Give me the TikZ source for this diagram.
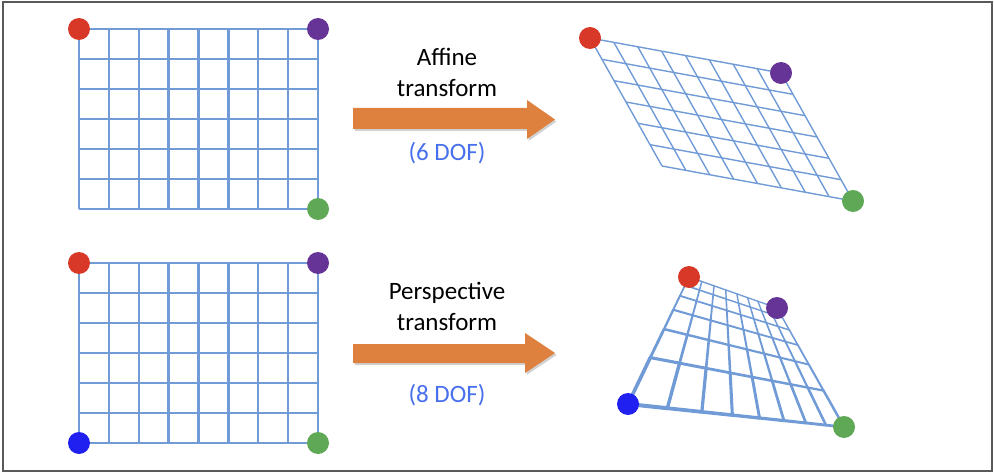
\documentclass[tikz,border=0pt]{standalone}
\usepackage{fontspec}
\setmainfont{Carlito}
\usetikzlibrary{calc}
\definecolor{gridblue}{RGB}{112,155,214}
\definecolor{dred}{RGB}{216,56,40}
\definecolor{dpurple}{RGB}{102,52,150}
\definecolor{dgreen}{RGB}{94,168,86}
\definecolor{dblue}{RGB}{32,32,240}
\definecolor{arroworange}{RGB}{222,128,62}
\definecolor{dofblue}{RGB}{72,112,236}
\tikzset{
  flatgrid/.style={draw=gridblue, line width=2.3pt},
  affgrid/.style={draw=gridblue, line width=1.4pt},
  pgrid/.style={draw=gridblue, line cap=round},
  dot/.style={circle, inner sep=0pt, minimum size=22pt},
  fatarrow/.style={fill=arroworange, draw=none},
  arrowshadow/.style={fill=black, opacity=0.18, draw=none},
  label/.style={font=\fontsize{25}{31}\selectfont, align=center, text=black},
  doflabel/.style={font=\fontsize{25}{31}\selectfont, text=dofblue},
  declare function={
    Pw(\u,\v)=1+0.19335*\u-0.65257*\v;
    Hx(\u,\v)=(238.23*\u-470.81*\v+689)/Pw(\u,\v);
    Hy(\u,\v)=(90.55*\u-136.64*\v+277)/Pw(\u,\v);
  }
}
\begin{document}
\begin{tikzpicture}[x=1pt,y=-1pt]
\useasboundingbox (0,0) rectangle (994,476);
\draw[draw=black!65, line width=1.2pt] (3,2) rectangle (992,471);

% ---------- flat grids ----------
\foreach \yo in {0,234}{
  \foreach \i in {0,...,8}{
    \draw[flatgrid] ({79+\i*239/8},{29+\yo}) -- ({79+\i*239/8},{209+\yo});
  }
  \foreach \j in {0,...,6}{
    \draw[flatgrid] (79,{29+\yo+\j*30}) -- (318,{29+\yo+\j*30});
  }
}

% ---------- affine grid ----------
\coordinate (AR) at (590,38);
\coordinate (AP) at (781,73);
\coordinate (AG) at (853,201);
\coordinate (AL) at (662,166);
\foreach \i in {0,...,8}{
  \draw[affgrid] ($(AR)!\i/8!(AP)$) -- ($(AL)!\i/8!(AG)$);
}
\foreach \j in {0,...,6}{
  \draw[affgrid] ($(AR)!\j/6!(AL)$) -- ($(AP)!\j/6!(AG)$);
}

% ---------- perspective grid ----------
\foreach \j in {0,...,6}{
  \foreach \i in {0,...,7}{
    \pgfmathsetmacro\ua{\i/8}
    \pgfmathsetmacro\ub{(\i+1)/8}
    \pgfmathsetmacro\vv{\j/6}
    \pgfmathsetmacro\lw{1.45/Pw((\ua+\ub)/2,\vv)}
    \draw[pgrid, line width=\lw pt] ({Hx(\ua,\vv)},{Hy(\ua,\vv)}) -- ({Hx(\ub,\vv)},{Hy(\ub,\vv)});
  }
}
\foreach \i in {0,...,8}{
  \foreach \j in {0,...,5}{
    \pgfmathsetmacro\uu{\i/8}
    \pgfmathsetmacro\va{\j/6}
    \pgfmathsetmacro\vb{(\j+1)/6}
    \pgfmathsetmacro\lw{1.45/Pw(\uu,(\va+\vb)/2)}
    \draw[pgrid, line width=\lw pt] ({Hx(\uu,\va)},{Hy(\uu,\va)}) -- ({Hx(\uu,\vb)},{Hy(\uu,\vb)});
  }
}

% ---------- dots ----------
\node[dot, fill=dred]    (r1) at (79,29) {};
\node[dot, fill=dpurple] (p1) at (318,29) {};
\node[dot, fill=dgreen]  (g1) at (318,209) {};

\node[dot, fill=dred]    (r2) at (79,263) {};
\node[dot, fill=dpurple] (p2) at (318,263) {};
\node[dot, fill=dblue]   (b2) at (79,443) {};
\node[dot, fill=dgreen]  (g2) at (318,443) {};

\node[dot, fill=dred]    (r3) at (AR) {};
\node[dot, fill=dpurple] (p3) at (AP) {};
\node[dot, fill=dgreen]  (g3) at (AG) {};

\node[dot, fill=dred]    (r4) at (689,277) {};
\node[dot, fill=dpurple] (p4) at (777,308) {};
\node[dot, fill=dblue]   (b4) at (628,404) {};
\node[dot, fill=dgreen]  (g4) at (844,427) {};

% ---------- arrows ----------
\fill[arrowshadow] (354.5,110) -- (528.5,110) -- (528.5,102) -- (556.5,121.5) -- (528.5,141) -- (528.5,131) -- (354.5,131) -- cycle;
\fill[fatarrow] (353,108) -- (527,108) -- (527,100) -- (555,119.5) -- (527,139) -- (527,129) -- (353,129) -- cycle;

\fill[arrowshadow] (354.5,346) -- (526.5,346) -- (526.5,335) -- (556.5,355) -- (526.5,375) -- (526.5,365) -- (354.5,365) -- cycle;
\fill[fatarrow] (353,344) -- (525,344) -- (525,333) -- (555,353) -- (525,373) -- (525,363) -- (353,363) -- cycle;

% ---------- labels ----------
\node[label] (t1) at (447,72) {Affine\\transform};
\node[doflabel] (d1) at (447,153) {(6 DOF)};
\node[label] (t2) at (447,306) {Perspective\\transform};
\node[doflabel] (d2) at (447,395) {(8 DOF)};
\end{tikzpicture}
\end{document}
